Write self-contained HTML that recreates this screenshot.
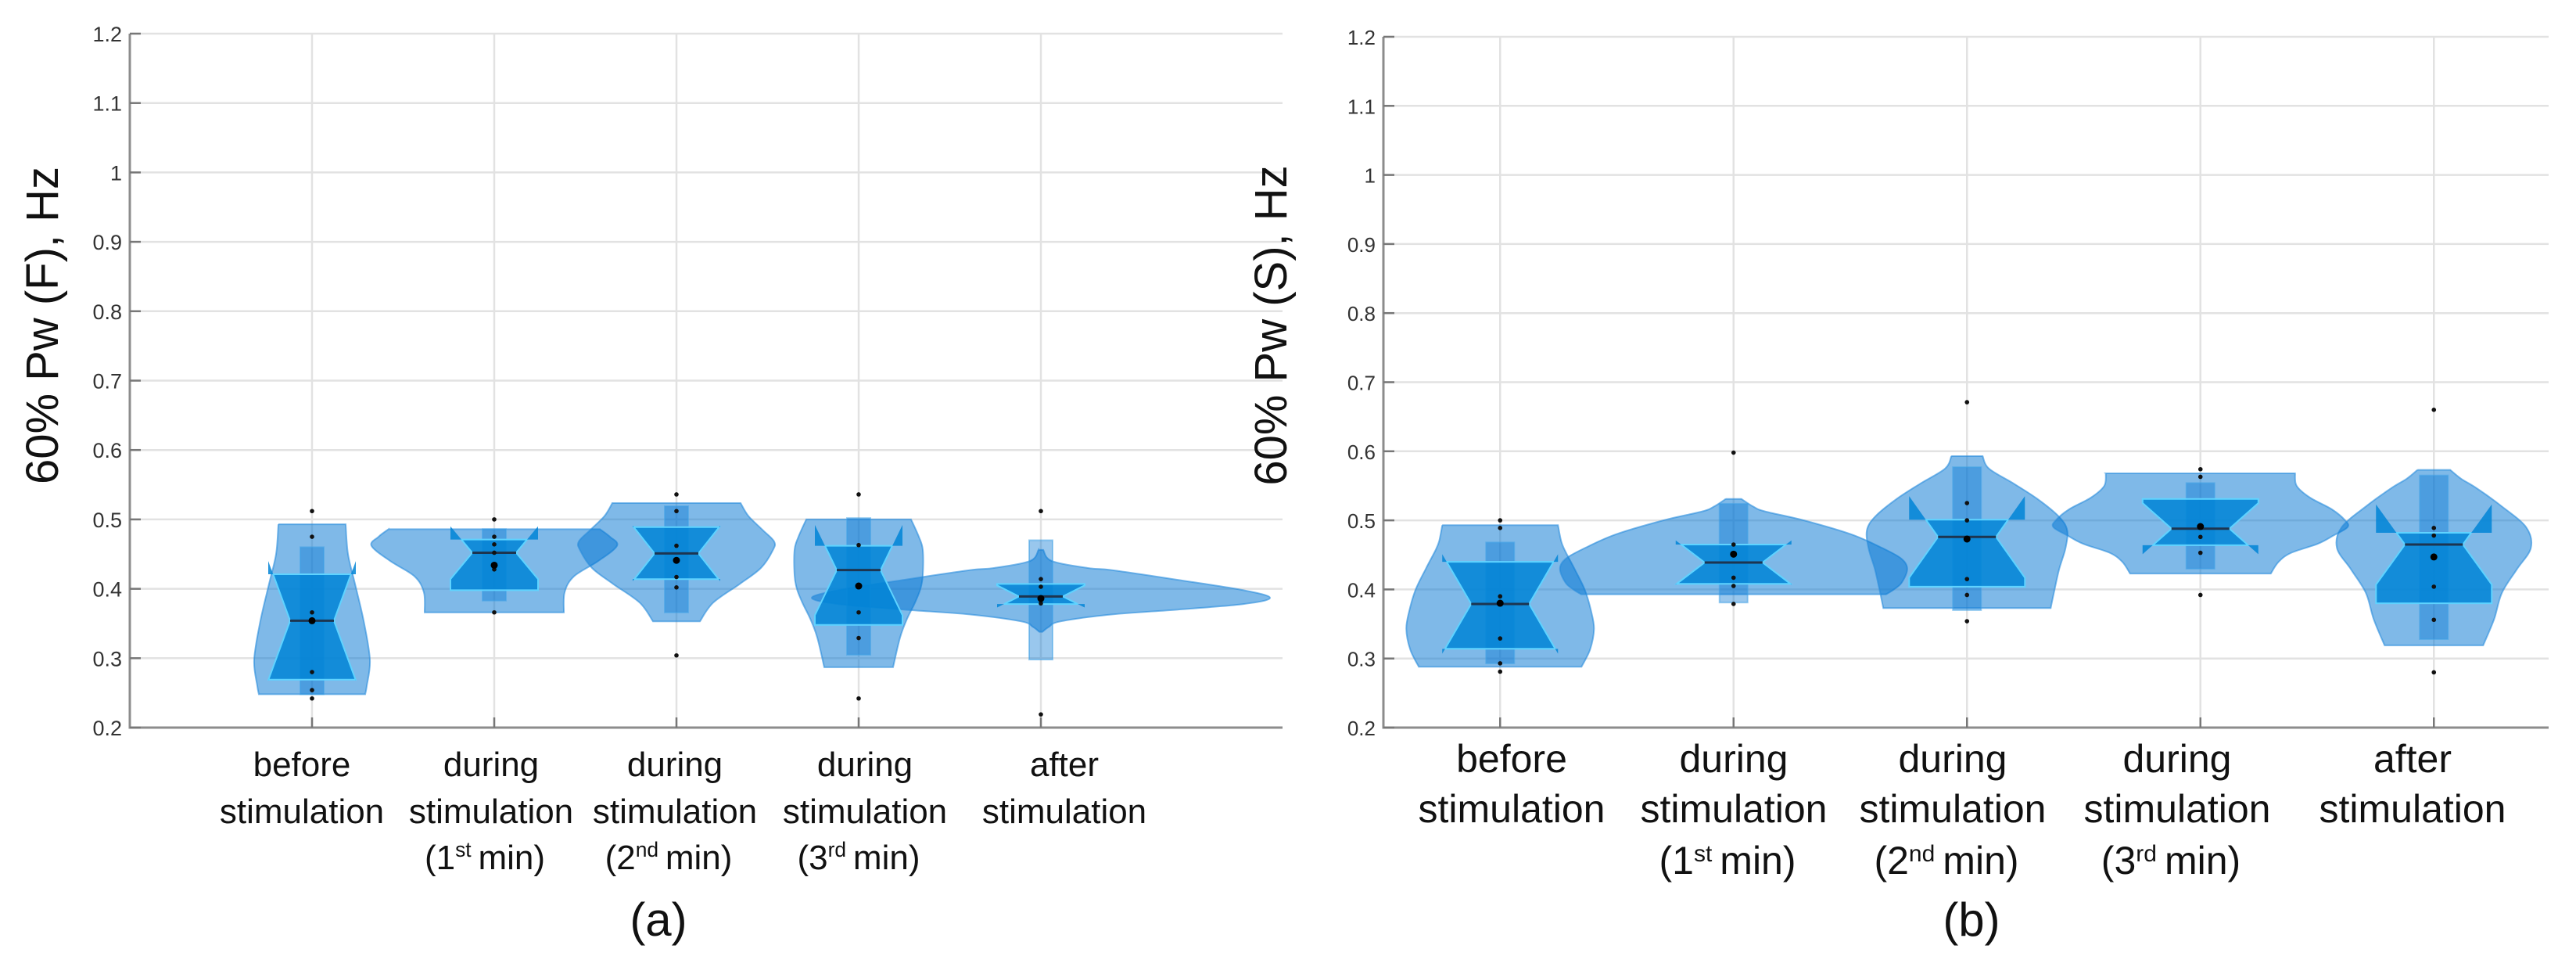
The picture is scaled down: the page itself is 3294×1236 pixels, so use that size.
<!DOCTYPE html>
<html><head><meta charset="utf-8"><style>
html,body{margin:0;padding:0;background:#fff;}
svg{display:block;}
.tick{font-family:"Liberation Sans",sans-serif;fill:#333;}
.cat{font-family:"Liberation Sans",sans-serif;fill:#111;}
</style></head><body>
<svg id="fig" width="3294" height="1236" viewBox="0 0 3294 1236"></svg>
<script>
const categories = ["before stimulation","during stimulation (1st min)","during stimulation (2nd min)","during stimulation (3rd min)","after stimulation"];
const yTicks = [0.2,0.3,0.4,0.5,0.6,0.7,0.8,0.9,1,1.1,1.2];
const yTickLabels = ["0.2","0.3","0.4","0.5","0.6","0.7","0.8","0.9","1","1.1","1.2"];

// Panel (a) data
const aViolinV = [
 [0.493,0.45,0.407,0.354,0.298,0.26,0.248],
 [0.486,0.475,0.462,0.44,0.418,0.395,0.366],
 [0.5236,0.505,0.485,0.468,0.455,0.43,0.407,0.38,0.353],
 [0.50,0.475,0.456,0.42,0.40,0.38,0.357,0.33,0.287],
 [0.456,0.44,0.43,0.427,0.413,0.398,0.387,0.378,0.37,0.363,0.353,0.345,0.338]];
const aViolinD = [
 [0.43,0.46,0.55,0.66,0.74,0.70,0.68],
 [1.35,1.48,1.57,1.33,1.02,0.90,0.89],
 [0.82,0.92,1.10,1.25,1.23,1.08,0.81,0.47,0.30],
 [0.67,0.77,0.82,0.82,0.79,0.72,0.62,0.53,0.44],
 [0.03,0.14,0.60,0.91,1.75,2.59,2.93,2.59,1.75,0.91,0.25,0.10,0.02]];
const aBoxLo = [0.248,0.383,0.366,0.305,0.298];
const aBoxHi = [0.46,0.486,0.519,0.502,0.470];
const aQ1 = [0.269,0.398,0.414,0.348,0.378];
const aMedian = [0.354,0.452,0.451,0.427,0.389];
const aQ3 = [0.421,0.471,0.489,0.462,0.407];
const aNotch = [0.086,0.038,0.04,0.065,0.016];
const aMean = [0.354,0.434,0.441,0.404,0.386];
const aPoints = [
 [0.512,0.475,0.366,0.28,0.254,0.242],
 [0.5,0.475,0.464,0.452,0.428,0.366],
 [0.536,0.512,0.462,0.417,0.402,0.304],
 [0.536,0.463,0.366,0.329,0.242],
 [0.512,0.414,0.403,0.379,0.219]];

// Panel (b) data
const bViolinV = [
 [0.493,0.47,0.456,0.43,0.40,0.37,0.343,0.313,0.288],
 [0.531,0.52,0.513,0.50,0.48,0.46,0.445,0.43,0.41,0.40,0.393],
 [0.593,0.575,0.553,0.531,0.506,0.486,0.46,0.43,0.40,0.373],
 [0.568,0.55,0.533,0.516,0.50,0.49,0.478,0.466,0.453,0.44,0.423],
 [0.573,0.56,0.547,0.521,0.49,0.46,0.429,0.395,0.357,0.319]];
const bViolinD = [
 [0.74,0.78,0.83,0.95,1.08,1.16,1.20,1.15,1.04],
 [0.10,0.25,0.40,0.90,1.50,1.90,2.14,2.22,2.15,2.05,1.95],
 [0.20,0.28,0.60,0.90,1.17,1.28,1.26,1.18,1.12,1.07],
 [1.21,1.23,1.40,1.68,1.85,1.88,1.70,1.50,1.16,1.00,0.90],
 [0.21,0.35,0.54,0.86,1.18,1.24,1.06,0.87,0.77,0.63]];
const bBoxLo = [0.293,0.381,0.37,0.43,0.328];
const bBoxHi = [0.468,0.524,0.577,0.554,0.565];
const bQ1 = [0.314,0.408,0.404,0.464,0.38];
const bMedian = [0.379,0.439,0.476,0.488,0.465];
const bQ3 = [0.44,0.465,0.501,0.531,0.482];
const bNotch = [0.072,0.032,0.059,0.037,0.058];
const bMean = [0.380,0.451,0.473,0.491,0.447];
const bPoints = [
 [0.5,0.489,0.39,0.329,0.293,0.281],
 [0.598,0.465,0.417,0.405,0.379],
 [0.671,0.525,0.5,0.415,0.392,0.354],
 [0.574,0.563,0.476,0.453,0.392],
 [0.66,0.489,0.478,0.404,0.356,0.28]];

const NS = "http://www.w3.org/2000/svg";
const svg = document.getElementById("fig");
function mk(tag, attrs, parent){ const e=document.createElementNS(NS,tag); for(const k in attrs) e.setAttribute(k,attrs[k]); (parent||svg).appendChild(e); return e; }

function catmull(pts){
  let d = "";
  for(let i=0;i<pts.length-1;i++){
    const p0=pts[Math.max(0,i-1)], p1=pts[i], p2=pts[i+1], p3=pts[Math.min(pts.length-1,i+2)];
    const c1=[p1[0]+(p2[0]-p0[0])/6, p1[1]+(p2[1]-p0[1])/6];
    const c2=[p2[0]-(p3[0]-p1[0])/6, p2[1]-(p3[1]-p1[1])/6];
    d += ` C${c1[0].toFixed(1)},${c1[1].toFixed(1)} ${c2[0].toFixed(1)},${c2[1].toFixed(1)} ${p2[0].toFixed(1)},${p2[1].toFixed(1)}`;
  }
  return d;
}

function drawPanel(p){
  const g = mk("g",{});
  
  
  const x = c => p.left + (c - p.xmin) * p.unit;
  const y = v => p.y02 - (v - 0.2) * (p.y02 - p.y12);
  const grid = mk("g",{stroke:"#e2e2e2","stroke-width":2.5},g);
  
  
  yTicks.forEach(t=>{ if(t>0.2) mk("line",{x1:p.left,x2:p.right,y1:y(t),y2:y(t)},grid); });
  categories.forEach((c,i)=>{ mk("line",{x1:x(i+1),x2:x(i+1),y1:y(1.2),y2:y(0.2)},grid); });
  const ax = mk("path",{d:`M${p.left},${y(1.2)} V${y(0.2)} H${p.right}`,stroke:"#8c8c8c","stroke-width":3,fill:"none"},g);
  
  
  yTicks.forEach((t,i)=>{
    mk("line",{x1:p.left,x2:p.left+14,y1:y(t),y2:y(t),stroke:"#777","stroke-width":2.5},g);
    const tl = mk("text",{x:p.left-10,y:y(t)+10,"text-anchor":"end","font-size":p.tickSize,class:"tick"},g);
    tl.textContent = yTickLabels[i];
    
    
  });
  categories.forEach((c,i)=>{ mk("line",{x1:x(i+1),x2:x(i+1),y1:y(0.2),y2:y(0.2)-13,stroke:"#777","stroke-width":2.5},g); });
  const S = p.dscale;
  p.vv.forEach((vals,i)=>{
    const cx = x(i+1), ds = p.vd[i];
    const right = vals.map((v,k)=>[cx+ds[k]*S, y(v)]);
    const left = vals.map((v,k)=>[cx-ds[k]*S, y(v)]).reverse();
    let d = `M${left[left.length-1][0]},${right[0][1]} L${right[0][0]},${right[0][1]}` + catmull(right);
    d += ` L${left[0][0]},${left[0][1]}` + catmull(left) + " Z";
    const vp = mk("path",{d:d,fill:"rgb(0,116,210)","fill-opacity":0.5,stroke:"rgb(40,140,220)","stroke-opacity":0.6,"stroke-width":2},g);
    
    
  });
  p.vv.forEach((vals,i)=>{
    const cx = x(i+1);
    const bx = mk("rect",{x:cx-p.boxW,y:y(p.boxHi[i]),width:2*p.boxW,height:y(p.boxLo[i])-y(p.boxHi[i]),fill:"rgb(0,116,210)","fill-opacity":0.4,stroke:"rgb(60,160,230)","stroke-opacity":0.5,"stroke-width":2},g);
    
    
    const med=p.med[i], n=p.notch[i], q1=p.q1[i], q3=p.q3[i];
    const wF=p.notchW, wM=p.notchW/2;
    const wN = v => wM + (wF-wM)*Math.min(1, Math.abs(v-med)/n);
    const vs = [q3];
    if(med+n<q3) vs.push(med+n);
    vs.push(med);
    if(med-n>q1) vs.push(med-n);
    vs.push(q1);
    const rp = vs.map(v=>[cx+wN(v),y(v)]);
    const lp = vs.slice().reverse().map(v=>[cx-wN(v),y(v)]);
    const pts = rp.concat(lp).map(a=>a[0].toFixed(1)+","+a[1].toFixed(1)).join(" ");
    const nt = mk("polygon",{points:pts,fill:"rgb(0,132,214)","fill-opacity":0.85,stroke:"#5fd3ff","stroke-width":2},g);
    
    
    [1,-1].forEach(s=>{
      if(med+n>q3){
        const e = mk("polygon",{points:`${cx+s*wN(q3)},${y(q3)} ${cx+s*wF},${y(q3)} ${cx+s*wF},${y(med+n)}`,fill:"rgb(0,132,214)","fill-opacity":0.85},g);
        
        
      }
      if(med-n<q1){
        const e = mk("polygon",{points:`${cx+s*wN(q1)},${y(q1)} ${cx+s*wF},${y(q1)} ${cx+s*wF},${y(med-n)}`,fill:"rgb(0,132,214)","fill-opacity":0.85},g);
        
        
      }
    });
    const ml = mk("line",{x1:cx-wM,x2:cx+wM,y1:y(med),y2:y(med),stroke:"#1d3550","stroke-width":3},g);
    
    
    p.points[i].forEach(v=>{
      const c = mk("circle",{cx:cx,cy:y(v),r:2.8,fill:"#111"},g);
      
      
    });
    const mc = mk("circle",{cx:cx,cy:y(p.mean[i]),r:4.5,fill:"#000"},g);
    
    
  });
  p.labelX.forEach((lx,i)=>{
    const parts = categories[i].split(" ");
    const tg = mk("text",{"text-anchor":"middle","font-size":p.catSize,class:"cat"},g);
    
    
    const l1 = mk("tspan",{x:lx,y:p.lineY[0]},tg); l1.textContent = parts[0];
    const l2 = mk("tspan",{x:lx,y:p.lineY[1]},tg); l2.textContent = parts[1];
    if(parts.length>2){
      const m = parts[2].match(/\((\d)(\w+)/);
      const l3 = mk("tspan",{x:lx-8,y:p.lineY[2]},tg); l3.textContent = "(" + m[1];
      const sup = mk("tspan",{dy:-16,"font-size":p.catSize*0.6},tg); sup.textContent = m[2];
      const rest = mk("tspan",{dy:16},tg); rest.textContent = "\u2009min)";
    }
  });
  const yl = mk("text",{transform:`translate(${p.ylabX},${p.ylabY}) rotate(-90)`,"text-anchor":"middle","font-size":58,class:"cat"},g);
  yl.textContent = p.ylabel;
  
  
  const pl = mk("text",{x:p.panelX,y:1196,"text-anchor":"middle","font-size":60,class:"cat"},g);
  pl.textContent = p.panelLabel;
  
  
}

drawPanel({name:"panel-a",left:166,right:1640,xmin:0,unit:233,y02:930,y12:43,dscale:100,boxW:15,notchW:56,
  vv:aViolinV,vd:aViolinD,boxLo:aBoxLo,boxHi:aBoxHi,q1:aQ1,med:aMedian,q3:aQ3,notch:aNotch,mean:aMean,points:aPoints,
  tickSize:27,catSize:44,labelX:[386,628,863,1106,1361],lineY:[992,1052,1111],
  ylabel:"60% Pw (F), Hz",ylabX:74,ylabY:416,panelLabel:"(a)",panelX:842});
drawPanel({name:"panel-b",left:1769,right:3259,xmin:0.5,unit:298.5,y02:930,y12:47,dscale:100,boxW:18,notchW:74,
  vv:bViolinV,vd:bViolinD,boxLo:bBoxLo,boxHi:bBoxHi,q1:bQ1,med:bMedian,q3:bQ3,notch:bNotch,mean:bMean,points:bPoints,
  tickSize:26,catSize:50,labelX:[1933,2217,2497,2784,3085],lineY:[987,1051,1117],
  ylabel:"60% Pw (S), Hz",ylabX:1645,ylabY:416,panelLabel:"(b)",panelX:2521});
</script>
</body></html>
